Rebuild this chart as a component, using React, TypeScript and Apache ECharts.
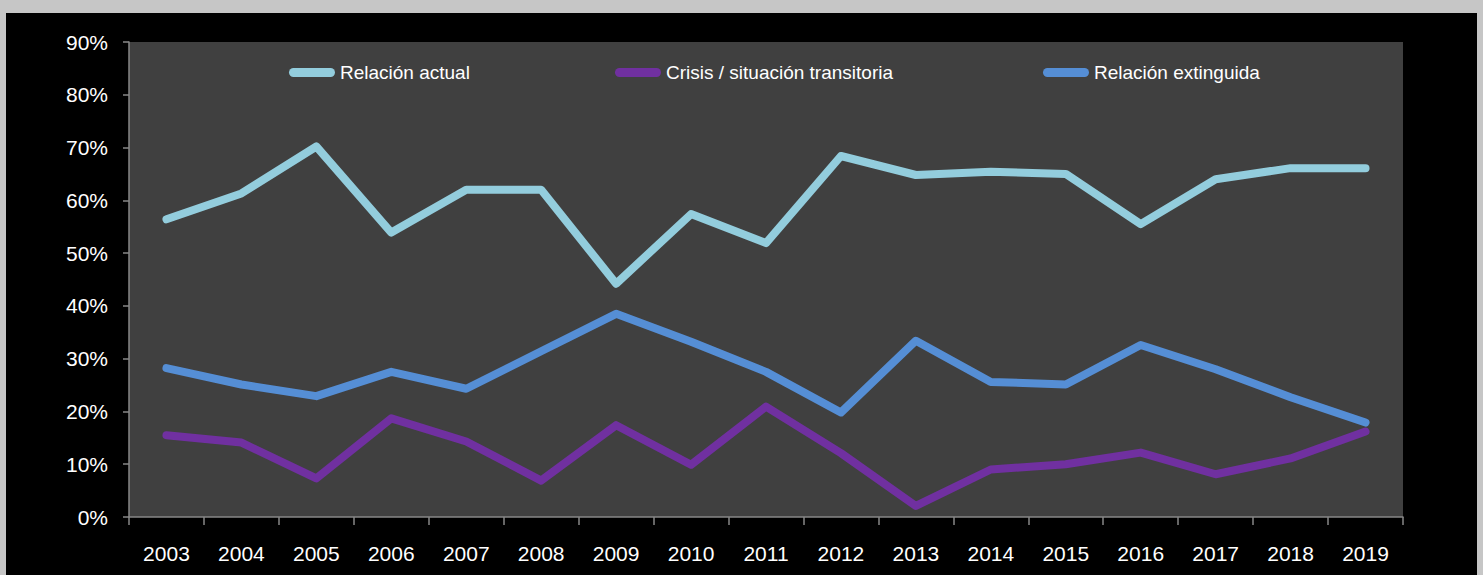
import React, { useEffect, useRef } from "react";
import * as echarts from "echarts";

const years = ["2003","2004","2005","2006","2007","2008","2009","2010","2011","2012","2013","2014","2015","2016","2017","2018","2019"];
const relacionActual = [56.4, 61.3, 70.2, 53.9, 62.0, 62.0, 44.2, 57.4, 51.9, 68.4, 64.8, 65.4, 65.0, 55.5, 64.0, 66.1, 66.1];
const crisis = [15.5, 14.1, 7.3, 18.7, 14.3, 6.9, 17.4, 9.9, 20.9, 12.1, 2.1, 9.0, 10.0, 12.2, 8.1, 11.1, 16.2];
const relacionExtinguida = [28.2, 25.1, 22.9, 27.5, 24.3, 31.4, 38.5, 33.2, 27.5, 19.8, 33.4, 25.6, 25.1, 32.6, 28.0, 22.7, 17.9];
const seriesNames = ["Relación actual", "Crisis / situación transitoria", "Relación extinguida"];
const seriesColors = ["#93CDDD", "#7030A0", "#558ED5"];

const FONT = "'Liberation Sans Narrow', 'Liberation Sans', sans-serif";
const ICON = "path://M4.5,0 H41.5 A4.5,4.5 0 0 1 41.5,9 H4.5 A4.5,4.5 0 0 1 4.5,0 Z";

export default function App() {
  const ref = useRef<HTMLDivElement>(null);
  useEffect(() => {
    if (!ref.current) return;
    const chart = echarts.init(ref.current, undefined, { renderer: "svg" });
    const data = [relacionActual, crisis, relacionExtinguida];
    const legendLefts = [289, 615, 1043];
    chart.setOption({
      animation: false,
      backgroundColor: "transparent",
      grid: {
        left: 129,
        top: 42,
        right: 80,
        bottom: 58,
        show: true,
        backgroundColor: "#404040",
        borderWidth: 0,
        outerBoundsMode: "none",
      },
      legend: seriesNames.map((n, i) => ({
        data: [n],
        left: legendLefts[i],
        top: 63,
        icon: ICON,
        itemWidth: 46,
        itemHeight: 9,
        itemGap: 0,
        padding: 0,
        selectedMode: false,
        textStyle: { color: "#ffffff", fontSize: 19, fontFamily: FONT },
      })),
      xAxis: {
        type: "category",
        data: years,
        boundaryGap: true,
        axisLine: { show: true, lineStyle: { color: "#878787", width: 1.5 } },
        axisTick: { show: true, alignWithLabel: false, length: 8, lineStyle: { color: "#878787", width: 1.5 } },
        axisLabel: { color: "#ffffff", fontSize: 21, fontFamily: FONT, margin: 26 },
        splitLine: { show: false },
      },
      yAxis: {
        type: "value",
        min: 0,
        max: 90,
        interval: 10,
        axisLine: { show: true, lineStyle: { color: "#878787", width: 1.5 } },
        axisTick: { show: true, length: 6, lineStyle: { color: "#878787", width: 1.5 } },
        axisLabel: { color: "#ffffff", fontSize: 21, fontFamily: FONT, margin: 21, formatter: "{value}%" },
        splitLine: { show: false },
      },
      series: seriesNames.map((n, i) => ({
        name: n,
        type: "line",
        data: data[i],
        symbol: "none",
        color: seriesColors[i],
        lineStyle: { width: 8, color: seriesColors[i], cap: "round", join: "round" },
      })),
    });
    return () => chart.dispose();
  }, []);
  return (
    <div style={{ position: "fixed", left: 0, top: 0, width: 1483, height: 575, background: "#c6c6c6" }}>
      <div style={{ position: "absolute", left: 6, top: 13, width: 1471, height: 562, background: "#000000" }} />
      <div ref={ref} style={{ position: "absolute", left: 0, top: 0, width: 1483, height: 575 }} />
    </div>
  );
}
